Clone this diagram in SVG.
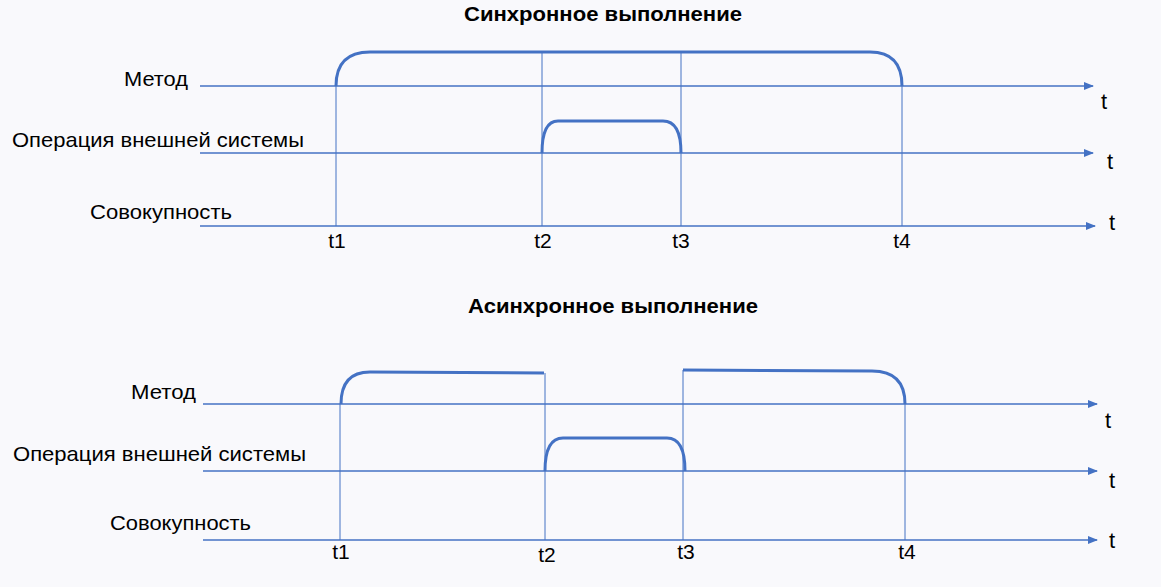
<svg xmlns="http://www.w3.org/2000/svg" width="1161" height="587" viewBox="0 0 1161 587">
<style>
text{font-family:"Liberation Sans",Arial,sans-serif;fill:#000}
.lbl{font-size:21px}
.tl{font-size:22px}
.ttl{font-size:21px;font-weight:bold}
.ax{stroke:#4472C4;stroke-width:1.5;fill:none}
.vl{stroke:#4472C4;stroke-width:1;fill:none}
.pl{stroke:#4472C4;stroke-width:3;fill:none}
</style>
<defs>
<marker id="arr" markerWidth="10" markerHeight="8" refX="9" refY="4" orient="auto" markerUnits="userSpaceOnUse">
<path d="M0,0 L10,4 L0,8 Z" fill="#4472C4"/>
</marker>
</defs>
<rect width="1161" height="587" fill="#f9f9fc"/>
<g id="sync">
<text class="ttl" x="603" y="21" text-anchor="middle" textLength="278" lengthAdjust="spacingAndGlyphs">Синхронное выполнение</text>
<g id="s-labels">
<text class="lbl" x="188" y="86" text-anchor="end" textLength="64" lengthAdjust="spacingAndGlyphs" font-size="22">Метод</text>
<text class="lbl" x="304" y="147" text-anchor="end" textLength="292" lengthAdjust="spacingAndGlyphs">Операция внешней системы</text>
<text class="lbl" x="232" y="219" text-anchor="end" textLength="142" lengthAdjust="spacingAndGlyphs">Совокупность</text>
<text class="tl" x="1104" y="109" text-anchor="middle">t</text>
<text class="tl" x="1110" y="169" text-anchor="middle">t</text>
<text class="tl" x="1112" y="230" text-anchor="middle">t</text>
<text class="lbl" x="337" y="248" text-anchor="middle">t1</text>
<text class="lbl" x="543" y="248" text-anchor="middle">t2</text>
<text class="lbl" x="681" y="248" text-anchor="middle">t3</text>
<text class="lbl" x="902" y="248" text-anchor="middle">t4</text>
</g>
<g id="s-connectors">
<line class="ax" x1="200" y1="86" x2="1093" y2="86" marker-end="url(#arr)"/>
<line class="ax" x1="200" y1="153" x2="1093" y2="153" marker-end="url(#arr)"/>
<line class="ax" x1="200" y1="226" x2="1095" y2="226" marker-end="url(#arr)"/>
<line class="vl" x1="336" y1="86" x2="336" y2="226"/>
<line class="vl" x1="542" y1="52" x2="542" y2="226"/>
<line class="vl" x1="681" y1="52" x2="681" y2="226"/>
<line class="vl" x1="902" y1="86" x2="902" y2="226"/>
<path class="pl" d="M336,86 Q336,52 370,52 L870,52 Q902,52 902,86"/>
<path class="pl" d="M542,153 Q542,121 558,121 L663,121 Q681,121 681,153"/>
</g>
</g>
<g id="async">
<text class="ttl" x="613" y="313" text-anchor="middle" textLength="290" lengthAdjust="spacingAndGlyphs">Асинхронное выполнение</text>
<g id="a-labels">
<text class="lbl" x="196" y="399" text-anchor="end" textLength="65" lengthAdjust="spacingAndGlyphs" font-size="22">Метод</text>
<text class="lbl" x="306" y="461" text-anchor="end" textLength="293" lengthAdjust="spacingAndGlyphs">Операция внешней системы</text>
<text class="lbl" x="251" y="530" text-anchor="end" textLength="141" lengthAdjust="spacingAndGlyphs">Совокупность</text>
<text class="tl" x="1108" y="428" text-anchor="middle">t</text>
<text class="tl" x="1112" y="488" text-anchor="middle">t</text>
<text class="tl" x="1112" y="548" text-anchor="middle">t</text>
<text class="lbl" x="341" y="559" text-anchor="middle">t1</text>
<text class="lbl" x="547" y="562" text-anchor="middle">t2</text>
<text class="lbl" x="686" y="559" text-anchor="middle">t3</text>
<text class="lbl" x="907" y="559" text-anchor="middle">t4</text>
</g>
<g id="a-connectors">
<line class="ax" x1="203" y1="404" x2="1097" y2="404" marker-end="url(#arr)"/>
<line class="ax" x1="203" y1="471" x2="1097" y2="471" marker-end="url(#arr)"/>
<line class="ax" x1="203" y1="540" x2="1097" y2="540" marker-end="url(#arr)"/>
<line class="vl" x1="340" y1="404" x2="340" y2="540"/>
<line class="vl" x1="545" y1="373" x2="545" y2="540"/>
<line class="vl" x1="683" y1="370" x2="683" y2="540"/>
<line class="vl" x1="905" y1="404" x2="905" y2="540"/>
<path class="pl" d="M341,404 Q341,372 370,372 L544,373"/>
<path class="pl" d="M545,471 Q545,438 563,438 L667,438 Q685,438 685,471"/>
<path class="pl" d="M683,370 L872,371 Q905,371 905,404"/>
</g>
</g>
</svg>
